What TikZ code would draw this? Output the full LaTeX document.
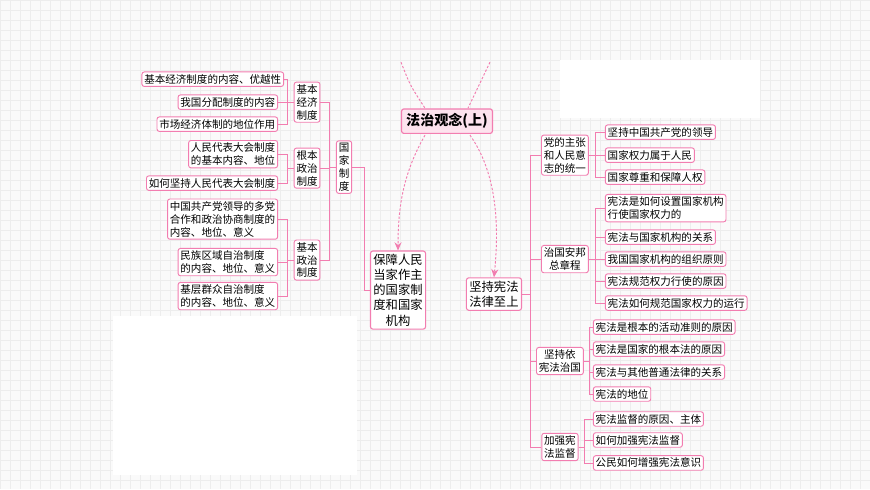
\documentclass[tikz,border=0pt]{standalone}
\usepackage{fontspec}
\setmainfont{Noto Sans CJK SC}
\usetikzlibrary{arrows.meta}
\definecolor{mmpink}{HTML}{F27DB0}
\definecolor{rootfill}{HTML}{FDE3EE}
\tikzset{
	rootstyle/.style={rectangle,rounded corners=2pt,draw=mmpink,line width=1pt,fill=rootfill,font=\fontsize{12}{14}\selectfont\bfseries,inner sep=4pt},
	mainstyle/.style={rectangle,rounded corners=2pt,draw=mmpink,line width=0.9pt,fill=white,font=\fontsize{10.5}{13}\selectfont,align=center,inner sep=2.5pt},
	midstyle/.style={rectangle,rounded corners=2pt,draw=mmpink,line width=0.8pt,fill=white,font=\fontsize{9}{11}\selectfont,align=center,inner sep=2pt},
	leafstyle/.style={rectangle,rounded corners=2pt,draw=mmpink,line width=0.8pt,fill=white,font=\fontsize{9}{11}\selectfont,align=left,inner sep=2pt},
	linkstyle/.style={draw=mmpink,line width=0.8pt},
	dashlink/.style={draw=mmpink,line width=0.8pt,dashed,dash pattern=on 2pt off 1.5pt}
}
\begin{document}
\begin{tikzpicture}[x=0.03cm,y=-0.03cm]
		\fill[black!2] (0,0) rectangle (870,489);
		\draw[black!7,step=0.3cm] (0,0) grid (870,489);
		\useasboundingbox (0,0) rectangle (870,489);
		% centre
		\node[rootstyle] (root) at (447,121) {法治观念(上)};
		\coordinate (upl) at (401,62);
		\coordinate (upr) at (490,62);
		\node[mainstyle] (state) at (398,290) {保障人民\\当家作主\\的国家制\\度和国家\\机构};
		\node[mainstyle] (const) at (494,294) {坚持宪法\\法律至上};
		\draw[dashlink] (upl) .. controls (410,85) .. (425,108);
		\draw[dashlink] (upr) .. controls (480,85) .. (468,108);
		\draw[dashlink,-{Stealth[length=7pt,width=6pt]}] (425,135) .. controls (402,175) and (398,210) .. (state.north);
		\draw[dashlink,-{Stealth[length=7pt,width=6pt]}] (470,135) .. controls (495,170) and (500,220) .. (const.north);
		% left side
		\node[midstyle] (gj) at (344,167) {国\\家\\制\\度};
		\node[midstyle] (econ) at (307,102) {基本\\经济\\制度};
		\node[midstyle] (gbzz) at (307,168) {根本\\政治\\制度};
		\node[midstyle] (jbzz) at (307,260) {基本\\政治\\制度};
		\node[leafstyle,anchor=east] (l1) at (284,79) {基本经济制度的内容、优越性};
		\node[leafstyle,anchor=east] (l2) at (278,102) {我国分配制度的内容};
		\node[leafstyle,anchor=east] (l3) at (278,124) {市场经济体制的地位作用};
		\node[leafstyle,anchor=east] (l4) at (278,154) {人民代表大会制度\\的基本内容、地位};
		\node[leafstyle,anchor=east] (l5) at (278,183) {如何坚持人民代表大会制度};
		\node[leafstyle,anchor=east] (l6) at (278,219) {中国共产党领导的多党\\合作和政治协商制度的\\内容、地位、意义};
		\node[leafstyle,anchor=east] (l7) at (278,262) {民族区域自治制度\\的内容、地位、意义};
		\node[leafstyle,anchor=east] (l8) at (278,296) {基层群众自治制度\\的内容、地位、意义};
		\draw[linkstyle] (state.west) -- ++(-6,0) |- (gj.east);
		\draw[linkstyle] (gj.west) -- ++(-7,0) |- (econ.east);
		\draw[linkstyle] (gj.west) -- ++(-7,0) |- (gbzz.east);
		\draw[linkstyle] (gj.west) -- ++(-7,0) |- (jbzz.east);
		\draw[linkstyle] (econ.west) -- ++(-6,0) |- (l1.east);
		\draw[linkstyle] (econ.west) -- ++(-6,0) |- (l2.east);
		\draw[linkstyle] (econ.west) -- ++(-6,0) |- (l3.east);
		\draw[linkstyle] (gbzz.west) -- ++(-6,0) |- (l4.east);
		\draw[linkstyle] (gbzz.west) -- ++(-6,0) |- (l5.east);
		\draw[linkstyle] (jbzz.west) -- ++(-6,0) |- (l6.east);
		\draw[linkstyle] (jbzz.west) -- ++(-6,0) |- (l7.east);
		\draw[linkstyle] (jbzz.west) -- ++(-6,0) |- (l8.east);
		% right side
		\node[midstyle] (will) at (565,155) {党的主张\\和人民意\\志的统一};
		\node[midstyle] (charter) at (565,259) {治国安邦\\总章程};
		\node[midstyle] (rule) at (560,361) {坚持依\\宪法治国};
		\node[midstyle] (super) at (560,447) {加强宪\\法监督};
		\node[leafstyle,anchor=west] (r1) at (605,132) {坚持中国共产党的领导};
		\node[leafstyle,anchor=west] (r2) at (605,155) {国家权力属于人民};
		\node[leafstyle,anchor=west] (r3) at (605,177) {国家尊重和保障人权};
		\node[leafstyle,anchor=west] (r4) at (605,208) {宪法是如何设置国家机构\\行使国家权力的};
		\node[leafstyle,anchor=west] (r5) at (605,237) {宪法与国家机构的关系};
		\node[leafstyle,anchor=west] (r6) at (605,259) {我国国家机构的组织原则};
		\node[leafstyle,anchor=west] (r7) at (605,281) {宪法规范权力行使的原因};
		\node[leafstyle,anchor=west] (r8) at (605,303) {宪法如何规范国家权力的运行};
		\node[leafstyle,anchor=west] (r9) at (593,327) {宪法是根本的活动准则的原因};
		\node[leafstyle,anchor=west] (r10) at (593,349) {宪法是国家的根本法的原因};
		\node[leafstyle,anchor=west] (r11) at (593,372) {宪法与其他普通法律的关系};
		\node[leafstyle,anchor=west] (r12) at (593,394) {宪法的地位};
		\node[leafstyle,anchor=west] (r13) at (593,419) {宪法监督的原因、主体};
		\node[leafstyle,anchor=west] (r14) at (593,440) {如何加强宪法监督};
		\node[leafstyle,anchor=west] (r15) at (593,463) {公民如何增强宪法意识};
		\draw[linkstyle] (const.east) -- ++(8,0) |- (will.west);
		\draw[linkstyle] (const.east) -- ++(8,0) |- (charter.west);
		\draw[linkstyle] (const.east) -- ++(8,0) |- (rule.west);
		\draw[linkstyle] (const.east) -- ++(8,0) |- (super.west);
		\draw[linkstyle] (will.east) -- ++(7,0) |- (r1.west);
		\draw[linkstyle] (will.east) -- ++(7,0) |- (r2.west);
		\draw[linkstyle] (will.east) -- ++(7,0) |- (r3.west);
		\draw[linkstyle] (charter.east) -- ++(7,0) |- (r4.west);
		\draw[linkstyle] (charter.east) -- ++(7,0) |- (r5.west);
		\draw[linkstyle] (charter.east) -- ++(7,0) |- (r6.west);
		\draw[linkstyle] (charter.east) -- ++(7,0) |- (r7.west);
		\draw[linkstyle] (charter.east) -- ++(7,0) |- (r8.west);
		\draw[linkstyle] (rule.east) -- ++(6,0) |- (r9.west);
		\draw[linkstyle] (rule.east) -- ++(6,0) |- (r10.west);
		\draw[linkstyle] (rule.east) -- ++(6,0) |- (r11.west);
		\draw[linkstyle] (rule.east) -- ++(6,0) |- (r12.west);
		\draw[linkstyle] (super.east) -- ++(6,0) |- (r13.west);
		\draw[linkstyle] (super.east) -- ++(6,0) |- (r14.west);
		\draw[linkstyle] (super.east) -- ++(6,0) |- (r15.west);
		% blank patches
		\fill[white] (113,316) rectangle (357,475);
		\fill[white] (560,60) rectangle (760,118);
		\end{tikzpicture}
\end{document}
